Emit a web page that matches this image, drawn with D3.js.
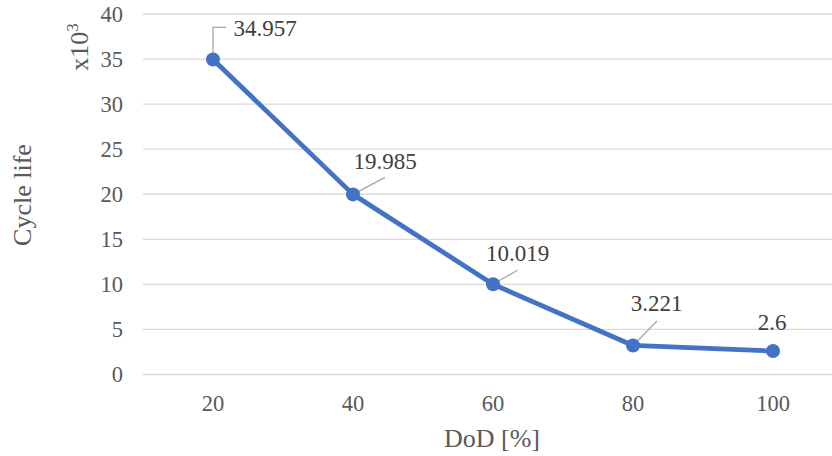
<!DOCTYPE html>
<html>
<head>
<meta charset="utf-8">
<script src="https://cdn.jsdelivr.net/npm/d3@7"></script>
<style>
  html, body { margin: 0; padding: 0; background: #fff; }
  svg text { font-family: "Liberation Serif", "Times New Roman", serif !important; }
</style>
</head>
<body>
<svg id="chart" width="832" height="456"></svg>
<script>
// Depth of discharge categories and cycle life (thousands of cycles)
const dod = ["20", "40", "60", "80", "100"];
const cycleLife = [34.957, 19.985, 10.019, 3.221, 2.6];
const yTicks = [0, 5, 10, 15, 20, 25, 30, 35, 40];

// Label layout relative to each marker (pixels): label centre and leader end
const labelShift = [[52, -31.5], [32, -33], [24.5, -31], [23.5, -42.5], [-1, -29]];
const leaderEnd = [null, [32, -17], [24.5, -14], [24, -24.5], null];

const svg = d3.select("#chart");
const W = 832;
const plotLeft = 143, plotRight = 843, plotTop = 14, plotBottom = 374.5;

const x = d3.scaleBand().domain(dod).range([plotLeft, plotRight]);
const y = d3.scaleLinear().domain([0, 40]).range([plotBottom, plotTop]);

const axisColor = "#595959";
const tickSize = 22.5, titleSize = 26, labelSize = 23;

// Gridlines
svg.append("g").selectAll("line").data(yTicks).join("line")
  .attr("x1", plotLeft).attr("x2", W)
  .attr("y1", d => y(d)).attr("y2", d => y(d))
  .attr("stroke", "#d9d9d9").attr("stroke-width", 1.3);

// Y axis tick labels
const gy = svg.append("g").attr("transform", "translate(123,0)")
  .call(d3.axisLeft(y).tickValues(yTicks).tickSize(0).tickPadding(0));
gy.select(".domain").remove();
gy.selectAll("text").attr("font-size", tickSize).attr("fill", axisColor);

// X axis tick labels
const gx = svg.append("g").attr("transform", "translate(0,395.5)")
  .call(d3.axisBottom(x).tickSize(0).tickPadding(0));
gx.select(".domain").remove();
gx.selectAll("text").attr("font-size", tickSize).attr("fill", axisColor);

// Axis titles
svg.append("text")
  .attr("x", 492).attr("y", 447)
  .attr("text-anchor", "middle").attr("font-size", titleSize).attr("fill", axisColor)
  .text("DoD [%]");

svg.append("text")
  .attr("transform", "translate(31,195) rotate(-90)")
  .attr("text-anchor", "middle").attr("font-size", titleSize).attr("fill", axisColor)
  .text("Cycle life");

const unit = svg.append("text")
  .attr("transform", "translate(88,47) rotate(-90)")
  .attr("text-anchor", "middle").attr("font-size", titleSize).attr("fill", axisColor);
unit.append("tspan").text("x10");
unit.append("tspan").attr("dy", -10).attr("font-size", 17).text("3");

// Marker positions from the scales
const pts = dod.map((d, i) => ({ v: cycleLife[i], cx: x(d) + x.bandwidth() / 2, cy: y(cycleLife[i]) }));

// Leader lines from markers to labels
pts.forEach((p, i) => {
  if (i === 0) {
    // elbow leader up from the first marker, then across to its label
    svg.append("path")
      .attr("d", `M${p.cx},${p.cy} V${p.cy + labelShift[i][1] - 0.5} H${p.cx + 13}`)
      .attr("fill", "none").attr("stroke", "#a6a6a6").attr("stroke-width", 1.3);
  } else if (leaderEnd[i]) {
    svg.append("line")
      .attr("x1", p.cx).attr("y1", p.cy)
      .attr("x2", p.cx + leaderEnd[i][0]).attr("y2", p.cy + leaderEnd[i][1])
      .attr("stroke", "#a6a6a6").attr("stroke-width", 1.3);
  }
});

// Series line
svg.append("path").datum(pts)
  .attr("d", d3.line().x(d => d.cx).y(d => d.cy))
  .attr("fill", "none").attr("stroke", "#4472c4")
  .attr("stroke-width", 4.8).attr("stroke-linejoin", "round");

// Markers
svg.append("g").selectAll("circle").data(pts).join("circle")
  .attr("cx", d => d.cx).attr("cy", d => d.cy).attr("r", 7)
  .attr("fill", "#4472c4");

// Data labels
svg.append("g").selectAll("text").data(pts).join("text")
  .attr("x", (d, i) => d.cx + labelShift[i][0])
  .attr("y", (d, i) => d.cy + labelShift[i][1])
  .attr("dy", "0.33em")
  .attr("text-anchor", "middle")
  .attr("font-size", labelSize).attr("fill", "#404040")
  .text(d => String(d.v));
</script>
</body>
</html>
